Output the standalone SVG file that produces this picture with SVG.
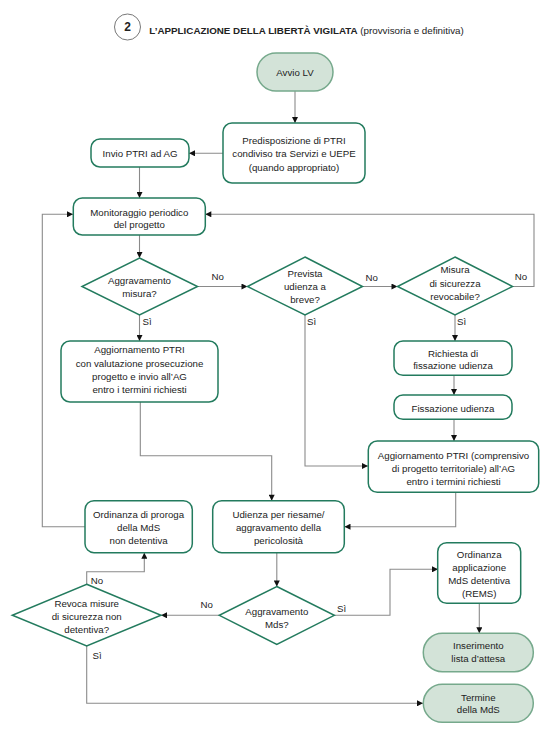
<svg xmlns="http://www.w3.org/2000/svg" width="557" height="737" viewBox="0 0 557 737">
<defs>
<marker id="ah" viewBox="0 0 10 10" refX="10" refY="5" markerWidth="8" markerHeight="6" orient="auto" markerUnits="userSpaceOnUse"><path d="M0,0 L10,5 L0,10 z" fill="#111"/></marker>
<style>
.box{fill:#fff;stroke:#237b5e;stroke-width:1.5}
.pill{fill:#d3e3d8;stroke:#76a98c;stroke-width:1.5}
.dia{fill:#fff;stroke:#237b5e;stroke-width:1.5}
.t{font-family:"Liberation Sans",Arial,sans-serif;font-size:9.7px;fill:#222;text-anchor:middle}
.lb{font-family:"Liberation Sans",Arial,sans-serif;font-size:9.7px;fill:#222;text-anchor:middle}
.c{fill:none;stroke:#8a8a8a;stroke-width:1.1;marker-end:url(#ah)}
.cn{fill:none;stroke:#8a8a8a;stroke-width:1.1}
</style>
</defs>
<rect width="557" height="737" fill="#fff"/>
<g id="title">
<circle cx="127.5" cy="27" r="13" fill="#fff" stroke="#555" stroke-width="0.8"/>
<text x="127.5" y="31.2" font-family="Liberation Sans,Arial,sans-serif" font-size="12" font-weight="bold" text-anchor="middle" fill="#222">2</text>
<text x="149.3" y="33.5" font-family="Liberation Sans,Arial,sans-serif" font-size="9.8" fill="#222"><tspan font-weight="bold">L’APPLICAZIONE DELLA LIBERTÀ VIGILATA</tspan> (provvisoria e definitiva)</text>
</g>
<g id="connectors">
<path class="c" d="M295,91 V123"/>
<path class="c" d="M223,153.3 H189"/>
<path class="c" d="M139.5,167 V198"/>
<path class="c" d="M85,526.7 H42.3 V214.3 H73"/>
<path class="c" d="M512.5,286.5 H534 V214.3 H205.3"/>
<path class="c" d="M139.5,235 V258"/>
<path class="c" d="M197.5,286.5 H247.5"/>
<path class="c" d="M362.5,286.5 H397.5"/>
<path class="c" d="M139.5,315 V341"/>
<path class="c" d="M455,315 V341"/>
<path class="c" d="M454,375.3 V395"/>
<path class="c" d="M454,419.3 V441"/>
<path class="c" d="M305,315 V466 H368"/>
<path class="c" d="M140.3,402 V455.7 H271.7 V500.7"/>
<path class="c" d="M455.7,492.3 V526.7 H344.5"/>
<path class="c" d="M276.8,552.7 V586.5"/>
<path class="c" d="M219.3,615.3 H161"/>
<path class="c" d="M334.3,615.3 H390 V569.3 H438"/>
<path class="c" d="M86.7,584.3 V571.7 H144.3 V552.7"/>
<path class="c" d="M479.3,603.5 V633.3"/>
<path class="c" d="M86.7,646 V703.3 H423"/>
<text class="lb" x="217.7" y="280.4">No</text>
<text class="lb" x="371.7" y="280.7">No</text>
<text class="lb" x="521" y="280.4">No</text>
<text class="lb" x="147" y="325">Sì</text>
<text class="lb" x="311.7" y="325">Sì</text>
<text class="lb" x="461.7" y="325">Sì</text>
<text class="lb" x="97" y="584">No</text>
<text class="lb" x="97" y="659.4">Sì</text>
<text class="lb" x="206.7" y="608.4">No</text>
<text class="lb" x="341.7" y="611.7">Sì</text>
</g>
<g id="avvio">
<rect class="pill" x="257" y="53" width="76" height="38" rx="19"/>
<text class="t" x="295" y="76">Avvio LV</text>
</g>
<g id="predisposizione">
<rect class="box" x="223" y="123" width="142" height="60" rx="9"/>
<text class="t" x="294" y="143.5">Predisposizione di PTRI</text>
<text class="t" x="294" y="157">condiviso tra Servizi e UEPE</text>
<text class="t" x="294" y="170.5">(quando appropriato)</text>
</g>
<g id="invio">
<rect class="box" x="91" y="139" width="98" height="28" rx="9"/>
<text class="t" x="140" y="156.5">Invio PTRI ad AG</text>
</g>
<g id="monitoraggio">
<rect class="box" x="73.3" y="198" width="132" height="37" rx="9"/>
<text class="t" x="139.3" y="216.4">Monitoraggio periodico</text>
<text class="t" x="139.3" y="228.4">del progetto</text>
</g>
<g id="d-aggravamento-misura">
<polygon class="dia" points="139.5,258 197.5,286.5 139.5,315 82,286.5"/>
<text class="t" x="139.5" y="284.4">Aggravamento</text>
<text class="t" x="139.5" y="297.4">misura?</text>
</g>
<g id="d-prevista-udienza">
<polygon class="dia" points="305,257 362.5,286.5 305,315 247.5,286.5"/>
<text class="t" x="305" y="276.7">Prevista</text>
<text class="t" x="305" y="290">udienza a</text>
<text class="t" x="305" y="303.4">breve?</text>
</g>
<g id="d-misura-revocabile">
<polygon class="dia" points="455,257 512.5,286.5 455,315 397.5,286.5"/>
<text class="t" x="455" y="273.4">Misura</text>
<text class="t" x="455" y="286.7">di sicurezza</text>
<text class="t" x="455" y="300">revocabile?</text>
</g>
<g id="aggiornamento1">
<rect class="box" x="61" y="341" width="157" height="61" rx="9"/>
<text class="t" x="139.5" y="353.4">Aggiornamento PTRI</text>
<text class="t" x="139.5" y="366.7">con valutazione prosecuzione</text>
<text class="t" x="139.5" y="380">progetto e invio all’AG</text>
<text class="t" x="139.5" y="393.4">entro i termini richiesti</text>
</g>
<g id="richiesta">
<rect class="box" x="394" y="341" width="118" height="34.3" rx="9"/>
<text class="t" x="453" y="356.7">Richiesta di</text>
<text class="t" x="453" y="369.4">fissazione udienza</text>
</g>
<g id="fissazione">
<rect class="box" x="394" y="395" width="118" height="24.3" rx="9"/>
<text class="t" x="453" y="411.7">Fissazione udienza</text>
</g>
<g id="aggiornamento2">
<rect class="box" x="368.3" y="441" width="170.4" height="51.3" rx="9"/>
<text class="t" x="453.5" y="458.7">Aggiornamento PTRI (comprensivo</text>
<text class="t" x="453.5" y="472">di progetto territoriale) all’AG</text>
<text class="t" x="453.5" y="485">entro i termini richiesti</text>
</g>
<g id="ordinanza-proroga">
<rect class="box" x="85" y="500.7" width="107.3" height="52" rx="9"/>
<text class="t" x="138.6" y="517.7">Ordinanza di proroga</text>
<text class="t" x="138.6" y="530.7">della MdS</text>
<text class="t" x="138.6" y="544">non detentiva</text>
</g>
<g id="udienza">
<rect class="box" x="212.7" y="500.7" width="131.6" height="52" rx="9"/>
<text class="t" x="278.5" y="517.7">Udienza per riesame/</text>
<text class="t" x="278.5" y="530.7">aggravamento della</text>
<text class="t" x="278.5" y="544">pericolosità</text>
</g>
<g id="d-aggravamento-mds">
<polygon class="dia" points="276.8,586.5 334.3,615.3 276.8,644.3 219.3,615.3"/>
<text class="t" x="276.8" y="615">Aggravamento</text>
<text class="t" x="276.8" y="628">Mds?</text>
</g>
<g id="d-revoca">
<polygon class="dia" points="86.7,584.3 161,615.3 86.7,646 12.3,615.3"/>
<text class="t" x="86.7" y="607.4">Revoca misure</text>
<text class="t" x="86.7" y="620.4">di sicurezza non</text>
<text class="t" x="86.7" y="633.4">detentiva?</text>
</g>
<g id="ordinanza-rems">
<rect class="box" x="437.7" y="542.7" width="83" height="60.6" rx="9"/>
<text class="t" x="479.2" y="557.7">Ordinanza</text>
<text class="t" x="479.2" y="571">applicazione</text>
<text class="t" x="479.2" y="584">MdS detentiva</text>
<text class="t" x="479.2" y="596.7">(REMS)</text>
</g>
<g id="inserimento">
<rect class="pill" x="423.3" y="633.3" width="110" height="38.4" rx="19"/>
<text class="t" x="478.3" y="649.4">Inserimento</text>
<text class="t" x="478.3" y="661.5">lista d’attesa</text>
</g>
<g id="termine">
<rect class="pill" x="423.3" y="684.3" width="110" height="38" rx="19"/>
<text class="t" x="478.3" y="700.7">Termine</text>
<text class="t" x="478.3" y="713.4">della MdS</text>
</g>
</svg>
